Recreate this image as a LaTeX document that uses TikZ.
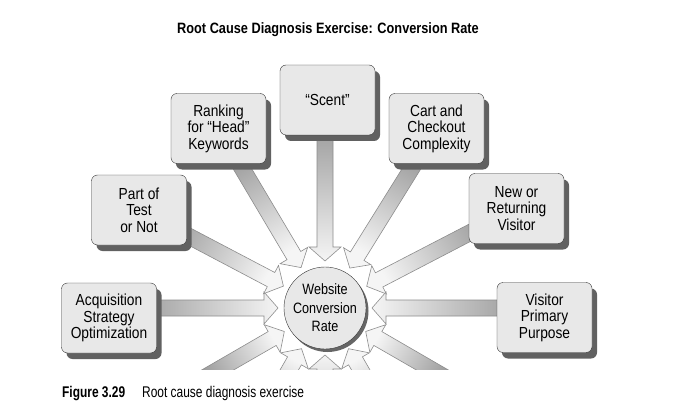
\documentclass[tikz,border=0pt]{standalone}
\usepackage{fontspec}
\setmainfont{Liberation Sans}[FakeStretch=0.86]
\newfontfamily\titlefont{Liberation Sans}[FakeStretch=0.85]
\newfontfamily\capfont{Liberation Sans}[FakeStretch=0.77]
\newfontfamily\ringfont{Liberation Sans}[FakeStretch=0.84]
\usetikzlibrary{calc,shadows,backgrounds}
\tikzset{
  cause/.style={draw=black!80, fill=black!9, rounded corners=6pt, minimum width=95pt, minimum height=70pt,
    align=center, font=\fontsize{16}{16.5}\selectfont,
    drop shadow={shadow xshift=5pt, shadow yshift=-6pt, fill=black!62, opacity=1}},
  effect/.style={circle, draw=black!80, fill=black!9, minimum size=82pt, inner sep=0pt,
    align=center, font=\ringfont\fontsize{15}{18.5}\selectfont,
    drop shadow={shadow xshift=2.5pt, shadow yshift=-3pt, fill=black!60, opacity=1}},
  arrowbody/.style={draw=black!45, line width=0.6pt, top color=black!45, bottom color=black!4}
}
\newcommand\blockarrow[2]{%
  \draw[arrowbody, shading angle={#2-90}]
    ($(#1)!8pt!90:(wcr)$) -- ($(wcr)!61pt!(#1)!8pt!90:(wcr)$) -- ($(wcr)!61pt!(#1)!16pt!90:(wcr)$)
    -- ($(wcr)!47pt!(#1)$) -- ($(wcr)!61pt!(#1)!16pt!-90:(wcr)$) -- ($(wcr)!61pt!(#1)!8pt!-90:(wcr)$)
    -- ($(#1)!8pt!-90:(wcr)$) -- cycle;}
\begin{document}
\begin{tikzpicture}[x=1pt,y=1pt]
  \useasboundingbox (0,0) rectangle (680,-409);
  \node[anchor=base, font=\titlefont\bfseries\fontsize{15}{18}\selectfont] (title) at (328,-34)
    {Root Cause Diagnosis Exercise: Conversion Rate};
  \node[effect] (wcr) at (325,-308) {Website\\Conversion\\Rate};
  \node[cause] (acq) at (109,-318) {Acquisition\\Strategy\\Optimization};
  \node[cause] (part) at (139,-210) {Part of\\Test\\or Not};
  \node[cause] (rank) at (218.5,-128.5) {Ranking\\for “Head”\\Keywords};
  \node[cause] (scent) at (327.5,-100) {“Scent”};
  \node[cause] (cart) at (436.5,-128.5) {Cart and\\Checkout\\Complexity};
  \node[cause] (new) at (516.5,-208.5) {New or\\Returning\\Visitor};
  \node[cause] (vpp) at (544.5,-317.5) {Visitor\\Primary\\Purpose};
  \coordinate (acqt) at (acq.center |- wcr);
  \coordinate (scentt) at (wcr |- scent.center);
  \coordinate (vppt) at (vpp.center |- wcr);
  \foreach \a [count=\i] in {-30,-60,-90,-120,-150}
    \coordinate (low\i) at ($(wcr)+(\a:160)$);
  \begin{pgfonlayer}{background}
    \begin{scope}
      \clip (0,-369) rectangle (680,0);
      \foreach \t/\a in {acqt/180, part.center/150, rank.center/120, scentt/90, cart.center/60,
          new.center/30, vppt/0, low1/-30, low2/-60, low3/-90, low4/-120, low5/-150}
        \blockarrow{\t}{\a};
    \end{scope}
  \end{pgfonlayer}
  \node[anchor=base west, font=\capfont\bfseries\fontsize{15.5}{18}\selectfont, inner sep=0pt] (fig) at (62,-397) {Figure 3.29};
  \node[anchor=base west, font=\capfont\fontsize{15.5}{18}\selectfont, inner sep=0pt] (cap) at (142,-397) {Root cause diagnosis exercise};
\end{tikzpicture}
\end{document}
